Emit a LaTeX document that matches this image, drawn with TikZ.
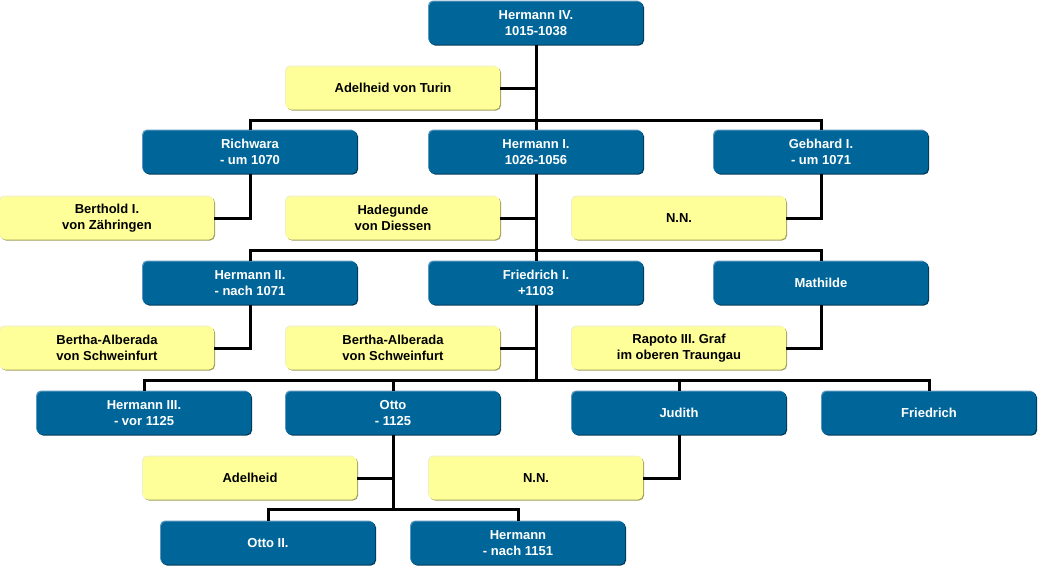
\documentclass[tikz,border=0pt]{standalone}
\usepackage{fontspec}
\setmainfont{Liberation Sans}
\definecolor{boxblue}{RGB}{0,102,153}
\definecolor{bluedark}{RGB}{0,55,85}
\definecolor{bluelight}{RGB}{90,150,190}
\definecolor{boxyellow}{RGB}{255,255,153}
\definecolor{yellowdark}{RGB}{160,160,90}
\definecolor{yellowlight}{RGB}{240,240,200}
\tikzset{
  person/.style={minimum width=214pt, minimum height=43pt, inner sep=0pt,
    rounded corners=5pt, fill=boxblue, text=white, align=center,
    font=\fontsize{13}{16}\selectfont\bfseries,
    preaction={fill=bluelight, transform canvas={shift={(-1pt,1pt)}}},
    preaction={fill=bluedark, transform canvas={shift={(1pt,-1pt)}}}},
  spouse/.style={minimum width=214pt, minimum height=43pt, inner sep=0pt,
    rounded corners=5pt, fill=boxyellow, text=black, align=center,
    font=\fontsize{13}{16}\selectfont\bfseries,
    preaction={fill=yellowlight, transform canvas={shift={(-1pt,1pt)}}},
    preaction={fill=yellowdark, transform canvas={shift={(1pt,-1pt)}}}},
  link/.style={draw=black, line width=3pt}
}
\begin{document}
\begin{tikzpicture}[x=1pt,y=-1pt]
\useasboundingbox (0,0) rectangle (1038,566);
% row 1
\node[person] (h4) at (536,23) {Hermann IV.\\1015-1038};
\node[spouse] (adt) at (393,88) {Adelheid von Turin};
% row 2
\node[person] (rich) at (250,152) {Richwara\\- um 1070};
\node[person] (h1) at (536,152) {Hermann I.\\1026-1056};
\node[person] (geb) at (821,152) {Gebhard I.\\- um 1071};
\node[spouse] (bert) at (107,218) {Berthold I.\\von Zähringen};
\node[spouse] (hade) at (393,218) {Hadegunde\\von Diessen};
\node[spouse] (nn1) at (679,218) {N.N.};
% row 3
\node[person] (h2) at (250,283) {Hermann II.\\- nach 1071};
\node[person] (fr1) at (536,283) {Friedrich I.\\+1103};
\node[person] (math) at (821,283) {Mathilde};
\node[spouse] (ba1) at (107,348) {Bertha-Alberada\\von Schweinfurt};
\node[spouse] (ba2) at (393,348) {Bertha-Alberada\\von Schweinfurt};
\node[spouse] (rap) at (679,348) {Rapoto III. Graf\\im oberen Traungau};
% row 4
\node[person] (h3) at (144,413) {Hermann III.\\- vor 1125};
\node[person] (otto) at (393,413) {Otto\\- 1125};
\node[person] (jud) at (679,413) {Judith};
\node[person] (fri) at (929,413) {Friedrich};
\node[spouse] (adh) at (250,478) {Adelheid};
\node[spouse] (nn2) at (536,478) {N.N.};
% row 5
\node[person] (o2) at (268,543) {Otto II.};
\node[person] (hm) at (518,543) {Hermann\\- nach 1151};
% bus coordinates
\coordinate (b1) at (536,120);
\coordinate (b2) at (536,250);
\coordinate (b3) at (536,380);
\coordinate (b4) at (393,509);
% connectors
\draw[link] (h4.south) -- (h1.north);
\draw[link] (adt.east) -- (adt.east -| h4.south);
\draw[link] (rich.north) -- (rich.north |- b1) -| (geb.north);
\draw[link] (rich.south) |- (bert.east);
\draw[link] (geb.south) |- (nn1.east);
\draw[link] (h1.south) -- (b2);
\draw[link] (hade.east) -- (hade.east -| h1.south);
\draw[link] (h2.north) -- (h2.north |- b2) -| (math.north);
\draw[link] (b2) -- (fr1.north);
\draw[link] (h2.south) |- (ba1.east);
\draw[link] (math.south) |- (rap.east);
\draw[link] (fr1.south) -- (b3);
\draw[link] (ba2.east) -- (ba2.east -| fr1.south);
\draw[link] (h3.north) -- (h3.north |- b3) -| (fri.north);
\draw[link] (otto.north) -- (otto.north |- b3);
\draw[link] (jud.north) -- (jud.north |- b3);
\draw[link] (otto.south) -- (b4);
\draw[link] (adh.east) -- (adh.east -| otto.south);
\draw[link] (jud.south) |- (nn2.east);
\draw[link] (o2.north) -- (o2.north |- b4) -| (hm.north);
\end{tikzpicture}
\end{document}
